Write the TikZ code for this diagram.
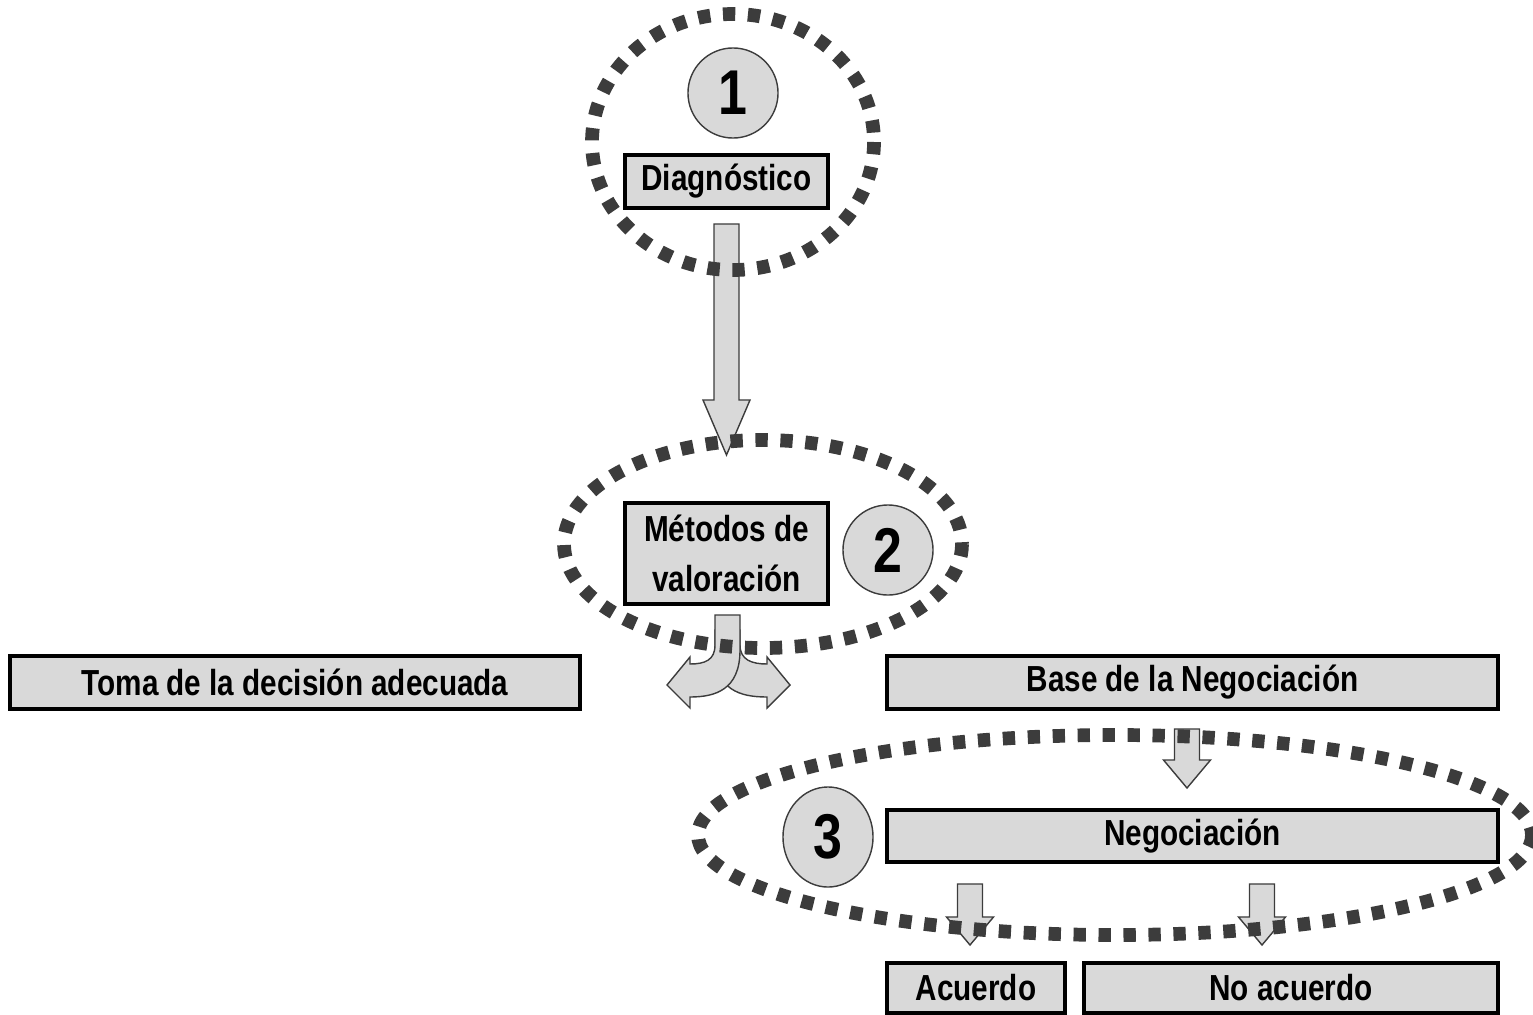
\documentclass[tikz,border=0pt]{standalone}
\usepackage{fontspec}
\setmainfont{Liberation Sans}[FakeStretch=0.82]
\usepackage{tikz}
\usetikzlibrary{calc,shapes.geometric}
\definecolor{boxgray}{HTML}{D9D9D9}
\definecolor{ringgray}{HTML}{3C3C3C}
\tikzset{
  stage/.style={draw=black, line width=1.1pt, fill=boxgray, inner sep=0pt, align=center,
    font=\fontsize{10.3}{14.2}\selectfont\bfseries},
  num/.style={circle, draw=ringgray, thin, fill=boxgray, minimum size=0.9cm, inner sep=0pt,
    font=\fontsize{18}{20}\selectfont\bfseries},
  ring/.style={draw=ringgray, line width=3.9pt, dash pattern=on 3.5pt off 3.6pt},
  head len/.store in=\bahead, head len=0.28cm,
  blockarrow/.style={draw=ringgray, thin, fill=boxgray, to path={
    let \p1=(\tikztostart), \p2=(\tikztotarget) in
    (\x1-0.125cm,\y1) -- (\x1+0.125cm,\y1) -- (\x1+0.125cm,\y2+\bahead)
    -- (\x1+0.235cm,\y2+\bahead) -- (\x1,\y2) -- (\x1-0.235cm,\y2+\bahead)
    -- (\x1-0.125cm,\y2+\bahead) -- cycle}},
}

\begin{document}
\begin{tikzpicture}[x=0.01cm, y=-0.01cm]
  \useasboundingbox (0,0) rectangle (1533,1015);

  % stages
  \node[stage, minimum width=2.03cm, minimum height=0.53cm] (diag) at (726.5,181.5) {Diagnóstico};
  \node[num] (one) at (733,93) {1};
  \node[stage, minimum width=2.03cm, minimum height=1.01cm] (metodos) at (726.5,553.5) {Métodos de\\valoración};
  \node[num] (two) at (888,550) {2};
  \node[stage, minimum width=5.7cm, minimum height=0.53cm] (toma) at (295,682.5) {Toma de la decisión adecuada};
  \node[stage, minimum width=6.11cm, minimum height=0.53cm] (base) at (1192.5,682.5) {Base de la Negociación};
  \node[stage, minimum width=6.11cm, minimum height=0.52cm] (nego) at (1192.5,836) {Negociación};
  \node[num, ellipse, minimum width=0.9cm, minimum height=1.0cm] (three) at (828,837) {3};
  \node[stage, minimum width=1.78cm, minimum height=0.5cm] (acuerdo) at (976,988) {Acuerdo};
  \node[stage, minimum width=4.14cm, minimum height=0.5cm] (noacuerdo) at (1291,988) {No acuerdo};

  % block arrows
  \coordinate (tip1) at (728,455);
  \coordinate (tip2) at (1187,788);
  \coordinate (tip3) at (970,945);
  \coordinate (tip4) at (1262,945);
  \draw[blockarrow, head len=0.55cm] ([yshift=-0.14cm]diag.south) to (tip1);
  \draw[blockarrow] ($(base.south -| tip2)+(0,18)$) to (tip2);
  \draw[blockarrow] ($(nego.south -| tip3)+(0,20)$) to (tip3);
  \draw[blockarrow] ($(nego.south -| tip4)+(0,20)$) to (tip4);

  % split arrow under the methods
  \draw[draw=ringgray, thin, fill=boxgray] (715,630) -- (715,650)
    .. controls (715,690) and (740,697) .. (767,697) -- (767,708) -- (790,685) -- (767,657) -- (767,664)
    .. controls (752,664) and (740,660) .. (740,645) -- (740,630) -- cycle;
  \draw[draw=ringgray, thin, fill=boxgray] (715,615) -- (740,615) -- (740,650)
    .. controls (740,690) and (715,697) .. (690,697) -- (690,708) -- (667,685) -- (690,657) -- (690,664)
    .. controls (705,664) and (715,660) .. (715,645) -- cycle;

  % dotted rings
  \draw[ring] (733,142) ellipse (141 and 128);
  \draw[ring] (763,544) ellipse (199 and 104);
  \draw[ring] (1115,835) ellipse (417 and 100);
\end{tikzpicture}
\end{document}
